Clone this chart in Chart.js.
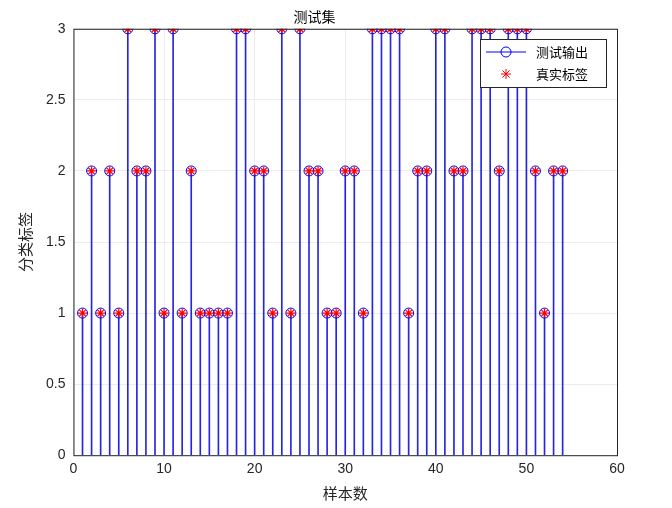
<!DOCTYPE html>
<html><head><meta charset="utf-8">
<script src="https://cdn.jsdelivr.net/npm/chart.js@4"></script>
<style>html,body{margin:0;background:#fff}#w{width:672px;height:508px}</style>
</head><body><div id="w"><canvas id="c"></canvas></div>
<script>
const samples=[];for(let i=1;i<=54;i++)samples.push(i);
const predicted=[1,2,1,2,1,3,2,2,3,1,3,1,2,1,1,1,1,3,3,2,2,1,3,1,3,2,2,1,1,2,2,1,3,3,3,3,1,2,2,3,3,2,2,3,3,3,2,3,3,3,2,1,2,2];
const actual=predicted.slice();
const xTicks=[0,10,20,30,40,50,60];
const yTicks=[0,0.5,1,1.5,2,2.5,3];
const F='"Liberation Sans", Arial, sans-serif';
const CJK='"Noto Sans CJK SC", sans-serif';
const pred=samples.map((x,i)=>({x,y:predicted[i]}));
const act=samples.map((x,i)=>({x,y:actual[i]}));
const extras={id:'ex',afterDraw(ch){
 const c=ch.ctx,a=ch.chartArea;c.save();
 c.strokeStyle='#262626';c.lineWidth=1;c.strokeRect(a.left+0.5,a.top+0.5,a.right-a.left,a.bottom-a.top);
 const lx=480,ly=39,w=126,h=48;
 c.fillStyle='#fff';c.fillRect(lx,ly,w,h);c.strokeRect(lx+0.5,ly+0.5,w,h);
 c.strokeStyle='#0000ff';c.beginPath();c.moveTo(lx+6,ly+13);c.lineTo(lx+46,ly+13);c.stroke();
 c.beginPath();c.arc(lx+26,ly+13,5,0,Math.PI*2);c.stroke();
 c.strokeStyle='#ff0000';c.beginPath();
 for(let k=0;k<4;k++){const an=k*Math.PI/4;c.moveTo(lx+26-5*Math.cos(an),ly+35-5*Math.sin(an));c.lineTo(lx+26+5*Math.cos(an),ly+35+5*Math.sin(an));}
 c.stroke();
 c.fillStyle='#000';c.font='13px '+CJK;c.textBaseline='middle';
 c.fillText('测试输出',lx+56,ly+13);c.fillText('真实标签',lx+56,ly+35);
 c.restore();}};
new Chart(document.getElementById('c'),{
 data:{datasets:[
  {type:'bar',data:pred,backgroundColor:'rgba(0,0,220,0.85)',barThickness:1,order:3},
  {type:'scatter',data:pred,pointStyle:'circle',radius:5,borderColor:'#0000ff',backgroundColor:'rgba(0,0,0,0)',borderWidth:1,order:2},
  {type:'scatter',data:act,pointStyle:'star',radius:4.5,borderColor:'#ff0000',borderWidth:1.2,order:1}
 ]},
 options:{responsive:true,maintainAspectRatio:false,animation:false,
  layout:{padding:{left:12,right:55,top:6,bottom:2}},
  plugins:{legend:{display:false},tooltip:{enabled:false},
   title:{display:true,text:'测试集',font:{family:CJK,size:14,weight:'normal'},color:'#000',padding:{top:2,bottom:4}}},
  scales:{
   x:{type:'linear',min:0,max:60,offset:false,afterBuildTicks:s=>{s.ticks=xTicks.map(v=>({value:v}))},
    grid:{color:'#ececec',drawTicks:false,offset:false},border:{display:false},
    ticks:{font:{family:F,size:14},color:'#262626',padding:6,callback:v=>String(v)},
    title:{display:true,text:'样本数',font:{family:CJK,size:15},color:'#262626',padding:{top:0}}},
   y:{min:0,max:3,afterBuildTicks:s=>{s.ticks=yTicks.map(v=>({value:v}))},
    grid:{color:'#ececec',drawTicks:false},border:{display:false},
    ticks:{font:{family:F,size:14},color:'#262626',padding:8,callback:v=>String(v)},
    title:{display:true,text:'分类标签',font:{family:CJK,size:15},color:'#262626',padding:{bottom:4}}}
  }},plugins:[extras]});
</script></body></html>
